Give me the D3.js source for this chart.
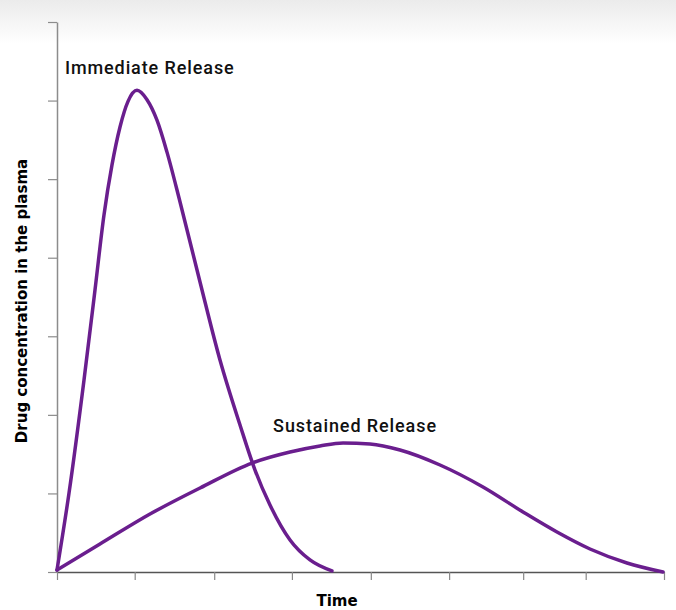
<!DOCTYPE html>
<html>
<head>
<meta charset="utf-8">
<script src="https://cdn.jsdelivr.net/npm/d3@7"></script>
<style>
  body { margin: 0; background: #fff; }
  svg { display: block; }
</style>
</head>
<body>
<svg id="chart" width="676" height="610"></svg>
<script>
// time on a 0-100 scale, concentration on a 0-7 scale (no numbers shown)
const immediateX = [0, 1.98, 4.45, 6.26, 7.74, 9.06, 10.38, 11.7, 13.18, 14.83, 16.47, 18.12, 20.26, 23.56, 26.85, 30.15, 32.62, 35.09, 38.39, 41.68, 45.3];
const immediateY = [0.025, 1.005, 2.444, 3.589, 4.545, 5.181, 5.664, 5.99, 6.13, 6.01, 5.75, 5.344, 4.713, 3.691, 2.698, 1.871, 1.298, 0.853, 0.407, 0.153, 0.013];

const sustainedX = [0, 7.08, 15.32, 23.56, 32.13, 38.39, 43.33, 47.12, 51.57, 56.51, 63.1, 70.18, 76.77, 82.37, 87.81, 93.9, 99.84];
const sustainedY = [0.025, 0.356, 0.738, 1.069, 1.387, 1.527, 1.604, 1.642, 1.629, 1.553, 1.362, 1.082, 0.764, 0.509, 0.293, 0.115, 0];

const xTicks = [0, 12.8, 25.9, 38.7, 51.7, 64.6, 76.8, 87.1, 100];
const yTicks = [0, 1, 2, 3, 4, 5, 6, 7];

const seriesLabels = ["Immediate Release", "Sustained Release"];
const xTitle = "Time";
const yTitle = "Drug concentration in the plasma";

const svg = d3.select("#chart");
const purple = "#6a1e8e";

// soft grey band at the top
const defs = svg.append("defs");
const grad = defs.append("linearGradient")
    .attr("id", "topFade")
    .attr("x1", 0).attr("y1", 0).attr("x2", 0).attr("y2", 1);
grad.append("stop").attr("offset", "0%").attr("stop-color", "#ebebeb");
grad.append("stop").attr("offset", "100%").attr("stop-color", "#ffffff");
svg.append("rect")
    .attr("x", 0).attr("y", 0)
    .attr("width", 676).attr("height", 44)
    .attr("fill", "url(#topFade)");

const xScale = d3.scaleLinear().domain([0, 100]).range([57, 664]);
const yScale = d3.scaleLinear().domain([0, 7]).range([572, 22]);

// y axis
const yAxis = d3.axisLeft(yScale)
    .tickValues(yTicks)
    .tickSize(9)
    .tickSizeOuter(0)
    .tickFormat("");
const yG = svg.append("g")
    .attr("transform", "translate(57,0)")
    .call(yAxis);
yG.select(".domain").attr("stroke", "#8c8c8c").attr("stroke-width", 1.5);
yG.selectAll(".tick line").attr("stroke", "#8c8c8c").attr("stroke-width", 1.2);

// x axis
const xAxis = d3.axisBottom(xScale)
    .tickValues(xTicks)
    .tickSize(8)
    .tickSizeOuter(0)
    .tickFormat("");
const xG = svg.append("g")
    .attr("transform", "translate(0,572)")
    .call(xAxis);
xG.select(".domain").attr("stroke", "#555").attr("stroke-width", 1.5);
xG.selectAll(".tick line").attr("stroke", "#888").attr("stroke-width", 1.2);

// curves
const line = d3.line()
    .x(d => xScale(d[0]))
    .y(d => yScale(d[1]))
    .curve(d3.curveMonotoneX);

const series = [
    d3.zip(immediateX, immediateY),
    d3.zip(sustainedX, sustainedY)
];

svg.selectAll(".curve")
    .data(series)
    .enter()
    .append("path")
    .attr("class", "curve")
    .attr("d", line)
    .attr("fill", "none")
    .attr("stroke", purple)
    .attr("stroke-width", 3.5)
    .attr("stroke-linecap", "round")
    .attr("stroke-linejoin", "round");

// curve labels
const labelPos = [[1.3, 6.34], [35.6, 1.78]];
svg.selectAll(".curveLabel")
    .data(seriesLabels)
    .enter()
    .append("text")
    .attr("class", "curveLabel")
    .attr("x", (d, i) => xScale(labelPos[i][0]))
    .attr("y", (d, i) => yScale(labelPos[i][1]))
    .style("font-family", "Roboto, sans-serif")
    .style("font-weight", "500")
    .style("font-size", "18px")
    .style("letter-spacing", "0.9px")
    .attr("fill", "#111")
    .text(d => d);

// axis titles
svg.append("text")
    .attr("x", 337)
    .attr("y", 606)
    .attr("text-anchor", "middle")
    .style("font-family", "'DejaVu Sans', sans-serif")
    .style("font-weight", "bold")
    .style("font-size", "15px")
    .attr("fill", "#000")
    .text(xTitle);

svg.append("text")
    .attr("transform", "translate(27,301) rotate(-90)")
    .attr("text-anchor", "middle")
    .style("font-family", "'DejaVu Sans', sans-serif")
    .style("font-weight", "bold")
    .style("font-size", "15px")
    .attr("fill", "#000")
    .text(yTitle);
</script>
</body>
</html>
